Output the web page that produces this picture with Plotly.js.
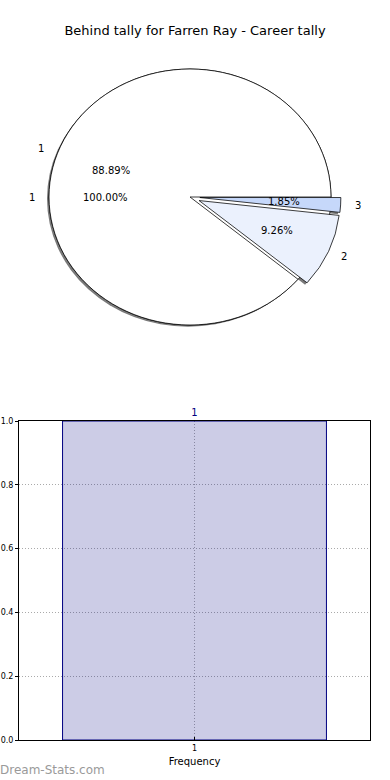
<!DOCTYPE html>
<html><head><meta charset="utf-8">
<script src="https://cdn.plot.ly/plotly-3.0.1.min.js"></script>
<style>
html,body{margin:0;padding:0;background:#fff}
#c{width:390px;height:780px}
#c .pielayer{transform-origin:190px 197px;transform:scaleY(0.9078);}
</style>
</head><body><div id="c"></div>
<script>
var titleText = "Behind tally for Farren Ray - Career tally";
var fullLabels = ["1"];
var fullValues = [54];
var sliceLabels = ["1", "2", "3"];
var sliceValues = [48, 5, 1];
var slicePull = [0, 0.07, 0.07];
var sliceColors = ["#ffffff", "#ebf1fd", "#c6d8fa"];
var barX = [1];
var barY = [1];
var barText = ["1"];
var yTicks = [0, 0.2, 0.4, 0.6, 0.8, 1.0];

var W = 390, H = 780;
var cx = 190, cy = 197, R = 141, RY = 128;   // pie centre and radii (layout)
var font = "DejaVu Sans, sans-serif";

function dom(half, dx, dy) {
  return {x: [(cx - half + dx) / W, (cx + half + dx) / W], y: [1 - (cy + half + dy) / H, 1 - (cy - half + dy) / H]};
}
function total(v) { return v.reduce(function (a, b) { return a + b; }, 0); }
function rot(v) { return ((90 - 360 * v[0] / total(v)) % 360 + 360) % 360; }
var maxPull = Math.max.apply(null, slicePull);
var domFull = dom(R, 0, 0), domSlices = dom(R * (1 + maxPull), 0, 0);
var domFullSh = dom(R, -2, 2), domSlicesSh = dom(R * (1 + maxPull), -2, 2);

var common = {type: "pie", sort: false, direction: "counterclockwise", hoverinfo: "none", showlegend: false, textinfo: "none"};

var traces = [
  Object.assign({}, common, {labels: fullLabels, values: fullValues, domain: domFullSh, rotation: rot(fullValues),
    marker: {colors: ["#7a7a7a"], line: {width: 0}}}),
  Object.assign({}, common, {labels: sliceLabels, values: sliceValues, pull: slicePull, domain: domSlicesSh, rotation: rot(sliceValues),
    marker: {colors: ["rgba(0,0,0,0)", "#7a7a7a", "#7a7a7a"], line: {width: 0}}}),
  Object.assign({}, common, {labels: fullLabels, values: fullValues, domain: domFull, rotation: rot(fullValues),
    marker: {colors: ["#ffffff"], line: {color: "#000", width: 0.8}}}),
  Object.assign({}, common, {labels: sliceLabels, values: sliceValues, pull: slicePull, domain: domSlices, rotation: rot(sliceValues),
    marker: {colors: sliceColors, line: {color: "#000", width: 0.8}}}),
  {type: "bar", x: barX, y: barY, width: 0.8, text: barText, textposition: "outside", cliponaxis: false,
    textfont: {family: font, size: 10, color: "#000080"},
    marker: {color: "rgba(0,0,128,0.2)", line: {color: "#000080", width: 1}},
    hoverinfo: "none", showlegend: false, xaxis: "x", yaxis: "y"}
];

// pie texts, placed like the original: labels at 1.1 r, percentages at 0.6 r
var annotations = [];
function pieText(labels, values, pulls) {
  var t = total(values), a0 = 0;
  values.forEach(function (v, i) {
    var mid = (a0 + v / t * 180) * Math.PI / 180;  // degrees ccw from east
    a0 += v / t * 360;
    var c = Math.cos(mid), s = Math.sin(mid), p = pulls ? pulls[i] : 0;
    var ox = p * R * c, oy = p * RY * s;
    var pct = (100 * v / t).toFixed(2) + "%";
    annotations.push({text: pct, xref: "paper", yref: "paper", showarrow: false, borderpad: 0, borderwidth: 0,
      x: (cx + ox + 0.6 * R * c) / W, y: 1 - (cy - oy - 0.6 * RY * s) / H, xanchor: "center", yanchor: "middle",
      font: {family: font, size: 10, color: "#000"}});
    annotations.push({text: labels[i], xref: "paper", yref: "paper", showarrow: false, borderpad: 0, borderwidth: 0,
      x: (cx + ox + 1.1 * R * c) / W, y: 1 - (cy - oy - 1.1 * RY * s) / H, xanchor: c < 0 ? "right" : "left", yanchor: "middle",
      font: {family: font, size: 10, color: "#000"}});
  });
}
pieText(fullLabels, fullValues, null);
pieText(sliceLabels, sliceValues, slicePull);
annotations.push({text: "Dream-Stats.com", xref: "paper", yref: "paper", x: 0, y: 10 / H, borderpad: 0, borderwidth: 0,
  xanchor: "left", yanchor: "middle", showarrow: false, font: {family: font, size: 12, color: "#9a9a9a"}});

var gridDash = "1px,2px";
var layout = {
  width: W, height: H,
  margin: {l: 0, r: 0, t: 0, b: 0},
  paper_bgcolor: "#fff", plot_bgcolor: "#fff",
  font: {family: font, color: "#000"},
  title: {text: titleText, x: 0.5, xanchor: "center", y: 1 - 30 / H, yanchor: "middle", font: {family: font, size: 13, color: "#000"}},
  xaxis: {domain: [19 / W, 370 / W], range: [0.468, 1.532], tickvals: barX, ticktext: barText,
    showline: true, mirror: true, linecolor: "#000", linewidth: 1, zeroline: false,
    showgrid: true, gridcolor: "#aaa", griddash: gridDash, gridwidth: 1,
    ticks: "inside", ticklen: 3, tickcolor: "#000",
    tickfont: {family: font, size: 8, color: "#000"},
    title: {text: "Frequency", font: {family: font, size: 10, color: "#000"}, standoff: 6}},
  yaxis: {domain: [40 / H, 359 / H], range: [0, 1], tickvals: yTicks, tickformat: ".1f",
    showline: true, mirror: true, linecolor: "#000", linewidth: 1, zeroline: false,
    showgrid: true, gridcolor: "#aaa", griddash: gridDash, gridwidth: 1,
    ticks: "outside", ticklen: 3, tickcolor: "#000",
    tickfont: {family: font, size: 8, color: "#000"}},
  annotations: annotations
};
Plotly.newPlot("c", traces, layout, {displayModeBar: false, staticPlot: true});
</script></body></html>
